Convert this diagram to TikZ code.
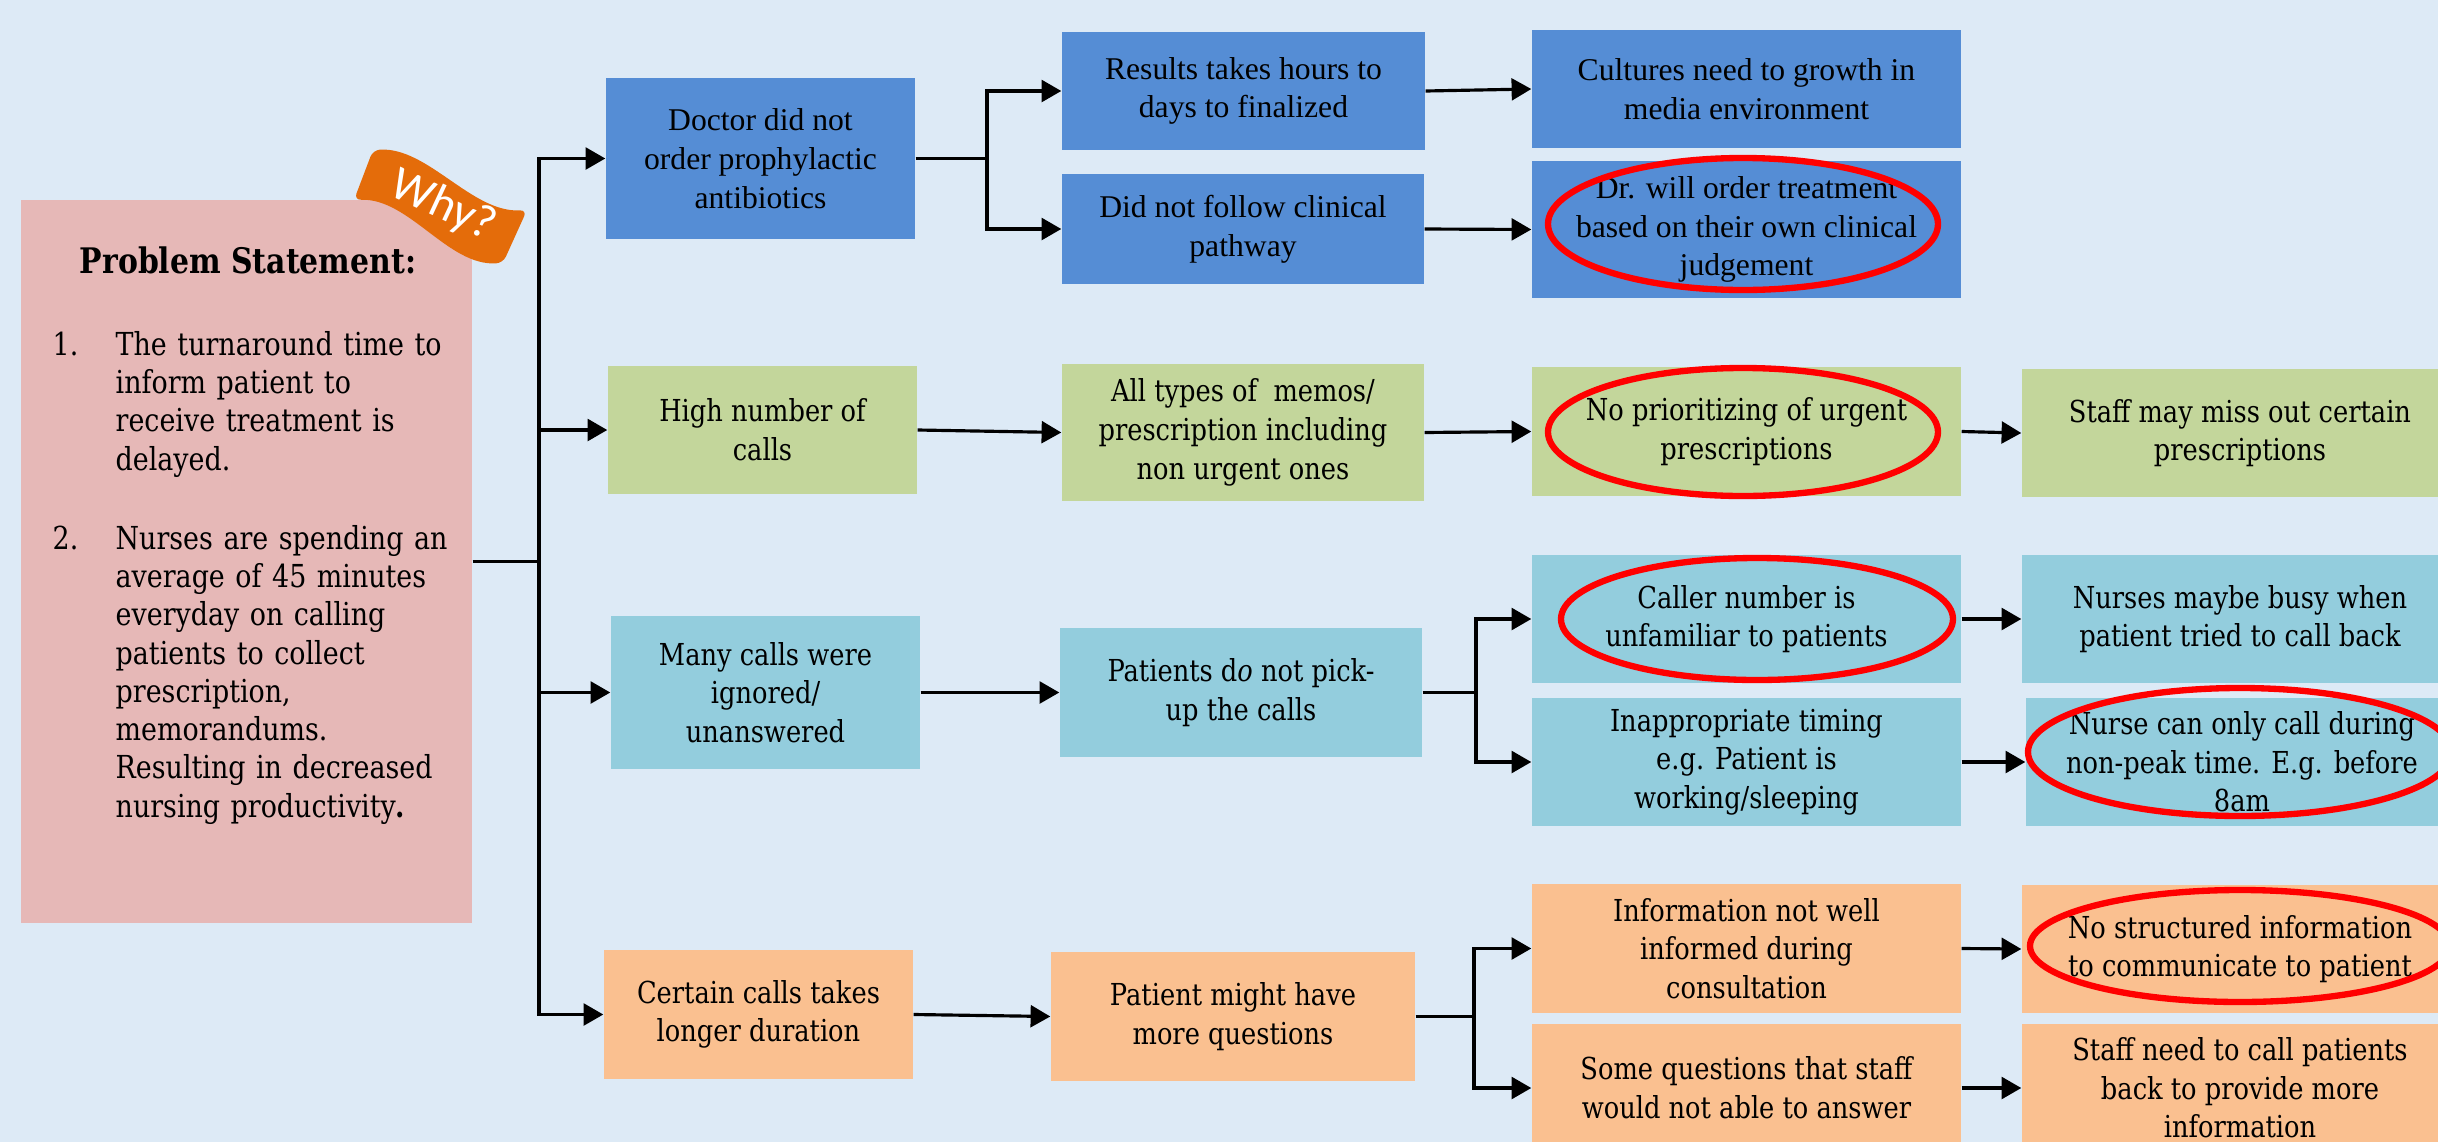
\documentclass[tikz,border=0pt]{standalone}
\usepackage{fontspec}
\setmainfont{Liberation Serif}
\newfontfamily\cambfont[FakeStretch=0.85]{DejaVu Serif}
\newfontfamily\califont{Carlito}
\usetikzlibrary{arrows.meta}
\definecolor{bgc}{HTML}{DDEAF6}
\definecolor{pinkC}{HTML}{E6B8B7}
\definecolor{blueC}{HTML}{558DD5}
\definecolor{greenC}{HTML}{C3D69B}
\definecolor{aquaC}{HTML}{93CDDD}
\definecolor{orangeC}{HTML}{FAC090}
\definecolor{flagC}{HTML}{E46C0A}
\begin{document}
\begin{tikzpicture}[x=0.01cm,y=-0.01cm,
  wh/.style 2 args={minimum width=#1*0.01cm, minimum height=#2*0.01cm},
  box/.style={inner sep=0pt, align=center, text=black},
  bluebox/.style={box, fill=blueC, font=\fontsize{9}{11}\selectfont},
  greenbox/.style={box, fill=greenC, font=\cambfont\fontsize{8.6}{11}\selectfont},
  aquabox/.style={box, fill=aquaC, font=\cambfont\fontsize{8.6}{11}\selectfont},
  orangebox/.style={box, fill=orangeC, font=\cambfont\fontsize{8.6}{11}\selectfont},
  probbox/.style={inner sep=0pt, fill=pinkC},
  probtext/.style={inner sep=0pt, anchor=base west, align=left, text width=3.4cm, font=\cambfont\fontsize{9}{10.9}\selectfont},
  conn/.style={line width=0.9pt, draw=black},
  arr/.style={conn, -{Triangle[length=5.6pt,width=6.2pt]}},
  ring/.style={draw=red, line width=1.8pt}]
\fill[bgc] (0,0) rectangle (2438,1142);
\useasboundingbox (0,0) rectangle (2438,1142);
\clip (0,0) rectangle (2438,1142);

% problem statement
\node[probbox, wh={451}{723}] (prob) at (246.5,561.5) {};
\node[inner sep=0pt, anchor=base, font=\cambfont\bfseries\fontsize{10}{12}\selectfont] (ptitle) at (248,273) {Problem Statement:};
\node[inner sep=0pt, anchor=base west, font=\cambfont\fontsize{9}{10.9}\selectfont] (n1) at (52,355) {1.};
\node[probtext] (t1) at (115,355) {The turnaround time to\\inform patient to\\receive treatment is\\delayed.};
\node[inner sep=0pt, anchor=base west, font=\cambfont\fontsize{9}{10.9}\selectfont] (n2) at (52,549) {2.};
\node[probtext] (t2) at (115,549) {Nurses are spending an\\average of 45 minutes\\everyday on calling\\patients to collect\\prescription,\\memorandums.\\Resulting in decreased\\nursing productivity{\bfseries .}};

% why banner
\fill[flagC, rounded corners=2pt] (373,150) .. controls (428,147) and (472,213) .. (527,210) -- (503,263) .. controls (448,266) and (409,198) .. (354,200) -- cycle;
\node[inner sep=0pt, text=white, rotate=-25, font=\califont\fontsize{13.5}{15}\selectfont] (why) at (443,206) {Why?};

% column 1
\node[bluebox, wh={309}{161}] (doc) at (760.5,158.5) {Doctor did not\\order prophylactic\\antibiotics};
\node[greenbox, wh={309}{128}] (high) at (762.5,430) {High number of\\calls};
\node[aquabox, wh={309}{153}] (many) at (765.5,692.5) {Many calls were\\ignored/\\unanswered};
\node[orangebox, wh={309}{129}] (certain) at (758.5,1014.5) {Certain calls takes\\longer duration};

% column 2
\node[bluebox, wh={363}{118}] (results) at (1243.5,91) {Results takes hours to\\days to finalized};
\node[bluebox, wh={362}{110}] (didnot) at (1243,229) {Did not follow clinical\\pathway};
\node[greenbox, wh={362}{137}] (alltypes) at (1243,432.5) {All types of\ \ memos/\\prescription including\\non urgent ones};
\node[aquabox, wh={362}{129}] (patients) at (1241,692.5) {Patients d{\itshape o} not pick-\\up the calls};
\node[orangebox, wh={364}{129}] (might) at (1233,1016.5) {Patient might have\\more questions};

% column 3
\node[bluebox, wh={429}{118}] (cultures) at (1746.5,89) {Cultures need to growth in\\media environment};
\node[bluebox, wh={429}{137}] (drwill) at (1746.5,229.5) {Dr. will order treatment\\based on their own clinical\\judgement};
\node[greenbox, wh={429}{129}] (noprio) at (1746.5,431.5) {No prioritizing of urgent\\prescriptions};
\node[aquabox, wh={429}{128}] (caller) at (1746.5,619) {Caller number is\\unfamiliar to patients};
\node[aquabox, wh={429}{128}] (inappr) at (1746.5,762) {Inappropriate timing\\e.g. Patient is\\working/sleeping};
\node[orangebox, wh={429}{129}] (infonot) at (1746.5,948.5) {Information not well\\informed during\\consultation};
\node[orangebox, wh={429}{128}] (someq) at (1746.5,1088) {Some questions that staff\\would not able to answer};

% column 4
\node[greenbox, wh={436}{128}] (staffmiss) at (2240,433) {Staff may miss out certain\\prescriptions};
\node[aquabox, wh={436}{128}] (busy) at (2240,619) {Nurses maybe busy when\\patient tried to call back};
\node[aquabox, wh={432}{128}] (nursecan) at (2242,762) {Nurse can only call during\\non-peak time. E.g. before\\8am};
\node[orangebox, wh={436}{128}] (nostruct) at (2240,949) {No structured information\\to communicate to patient};
\node[orangebox, wh={436}{128}] (staffneed) at (2240,1088) {Staff need to call patients\\back to provide more\\information};

% trunk
\coordinate (tr) at (539,561.5);
\draw[arr] (prob.east) -- (tr) |- (doc.west);
\draw[arr] (tr) |- (high.west);
\draw[arr] (tr) |- (many.west);
\draw[arr] (tr) |- (certain.west);

% row 1
\coordinate (b1) at (987,158.5);
\draw[arr] (doc.east) -- (b1) |- (results.west);
\draw[arr] (b1) |- (didnot.west);
\draw[arr] (results.east) -- (cultures.west);
\draw[arr] (didnot.east) -- (drwill.west);

% row 2
\draw[arr] (high.east) -- (alltypes.west);
\draw[arr] (alltypes.east) -- (noprio.west);
\draw[arr] (noprio.east) -- (staffmiss.west);

% row 3
\draw[arr] (many.east) -- (patients.west);
\coordinate (b2) at (1476,692.5);
\draw[arr] (patients.east) -- (b2) |- (caller.west);
\draw[arr] (b2) |- (inappr.west);
\draw[arr] (caller.east) -- (busy.west);
\draw[arr] (inappr.east) -- (nursecan.west);

% row 4
\draw[arr] (certain.east) -- (might.west);
\coordinate (b3) at (1474,1016.5);
\draw[arr] (might.east) -- (b3) |- (infonot.west);
\draw[arr] (b3) |- (someq.west);
\draw[arr] (infonot.east) -- (nostruct.west);
\draw[arr] (someq.east) -- (staffneed.west);

% red rings
\draw[ring] (1743,224) ellipse (195 and 66);
\draw[ring] (1743,432) ellipse (195 and 64);
\draw[ring] (1757,619) ellipse (196 and 61);
\draw[ring] (2240,752) ellipse (212 and 64);
\draw[ring] (2240,946) ellipse (210 and 56);
\end{tikzpicture}
\end{document}
